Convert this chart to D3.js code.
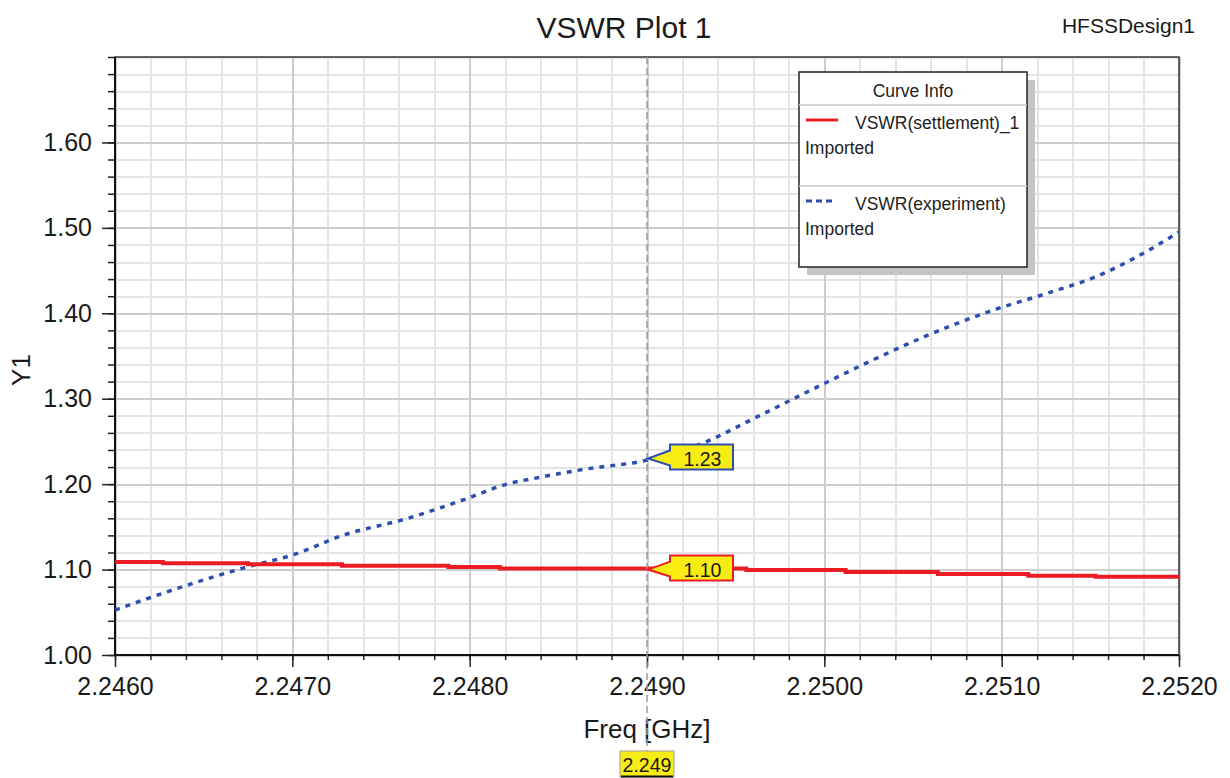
<!DOCTYPE html>
<html>
<head>
<meta charset="utf-8">
<script src="https://cdn.jsdelivr.net/npm/d3@7"></script>
<style>
  html, body { margin: 0; padding: 0; background: #fff; }
  svg { display: block; font-family: "Liberation Sans", Arial, sans-serif; }
  .grid line { shape-rendering: crispEdges; }
</style>
</head>
<body>
<div id="chart"></div>
<script>
// axis ticks
const xTicks = [2.246, 2.247, 2.248, 2.249, 2.250, 2.251, 2.252];
const xTickLabels = ['2.2460', '2.2470', '2.2480', '2.2490', '2.2500', '2.2510', '2.2520'];
const yTicks = [1.0, 1.1, 1.2, 1.3, 1.4, 1.5, 1.6];
const yTickLabels = ['1.00', '1.10', '1.20', '1.30', '1.40', '1.50', '1.60'];

// VSWR(settlement)_1 - stepped curve
const settlementFreq = [2.2460, 2.24627, 2.24675, 2.24728, 2.24788, 2.24817, 2.24956, 2.25012, 2.25064, 2.25115, 2.25153, 2.2520];
const settlementVswr = [1.1090, 1.1073, 1.1061, 1.1044, 1.1029, 1.1014, 1.0994, 1.0971, 1.0947, 1.0927, 1.0916, 1.0916];

// VSWR(experiment)
const experimentFreq = [2.2460, 2.24638, 2.24675, 2.24700, 2.24729, 2.24765, 2.24796, 2.24821, 2.24839, 2.24864, 2.24900,
  2.24931, 2.24962, 2.24998, 2.25027, 2.25054, 2.25095, 2.25125, 2.25155, 2.25176, 2.25200];
const experimentVswr = [1.0526, 1.0799, 1.1033, 1.1170, 1.1404, 1.1599, 1.1813, 1.2000, 1.2078, 1.2172, 1.2281,
  1.2476, 1.2787, 1.3158, 1.3450, 1.3704, 1.4035, 1.4230, 1.4444, 1.4658, 1.4951];

// marker
const markerFreq = 2.249;
const markerLabel = '2.249';
const markerValues = [1.23, 1.10];
const markerTexts = ['1.23', '1.10'];
const markerColors = ['#2f4fae', '#ec1c24'];

const W = 1230, H = 778;
const margin = { top: 57, right: 51, bottom: 123, left: 115 };
const width = W - margin.left - margin.right;
const height = H - margin.top - margin.bottom;

const x = d3.scaleLinear().domain([2.246, 2.252]).range([margin.left, margin.left + width]);
const y = d3.scaleLinear().domain([1.0, 1.7]).range([margin.top + height, margin.top]);

const svg = d3.select('#chart').append('svg')
  .attr('width', W)
  .attr('height', H);

// minor grid
svg.append('g')
  .attr('class', 'grid')
  .attr('transform', `translate(0, ${margin.top + height})`)
  .call(d3.axisBottom(x).ticks(30).tickSize(-height).tickFormat(''))
  .call((g) => g.select('.domain').remove())
  .call((g) => g.selectAll('.tick line').attr('stroke', '#e4e4e4').attr('stroke-width', 2));

svg.append('g')
  .attr('class', 'grid')
  .attr('transform', `translate(${margin.left}, 0)`)
  .call(d3.axisLeft(y).ticks(35).tickSize(-width).tickFormat(''))
  .call((g) => g.select('.domain').remove())
  .call((g) => g.selectAll('.tick line').attr('stroke', '#e4e4e4').attr('stroke-width', 2));

// major grid
svg.append('g')
  .attr('class', 'grid')
  .attr('transform', `translate(0, ${margin.top + height})`)
  .call(d3.axisBottom(x).tickValues(xTicks).tickSize(-height).tickFormat(''))
  .call((g) => g.select('.domain').remove())
  .call((g) => g.selectAll('.tick line').attr('stroke', '#cdcdcd').attr('stroke-width', 2));

svg.append('g')
  .attr('class', 'grid')
  .attr('transform', `translate(${margin.left}, 0)`)
  .call(d3.axisLeft(y).tickValues(yTicks).tickSize(-width).tickFormat(''))
  .call((g) => g.select('.domain').remove())
  .call((g) => g.selectAll('.tick line').attr('stroke', '#cdcdcd').attr('stroke-width', 2));

// minor ticks
svg.append('g')
  .attr('transform', `translate(0, ${margin.top + height})`)
  .call(d3.axisBottom(x).ticks(30).tickSize(5).tickFormat(''))
  .call((g) => g.select('.domain').remove())
  .call((g) => g.selectAll('.tick line').attr('stroke', '#222').attr('stroke-width', 1.5));

svg.append('g')
  .attr('transform', `translate(${margin.left}, 0)`)
  .call(d3.axisLeft(y).ticks(35).tickSize(7).tickFormat(''))
  .call((g) => g.select('.domain').remove())
  .call((g) => g.selectAll('.tick line').attr('stroke', '#222').attr('stroke-width', 1.5));

// major ticks + labels
svg.append('g')
  .attr('transform', `translate(0, ${margin.top + height})`)
  .call(d3.axisBottom(x).tickValues(xTicks).tickSize(12).tickPadding(10)
    .tickFormat((d, i) => xTickLabels[i]))
  .call((g) => g.select('.domain').remove())
  .call((g) => g.selectAll('.tick line').attr('stroke', '#222').attr('stroke-width', 1.5))
  .call((g) => g.selectAll('.tick text')
    .attr('fill', '#1a1a1a')
    .style('font-size', '25px')
    .style('font-family', '"Liberation Sans", Arial, sans-serif'));

svg.append('g')
  .attr('transform', `translate(${margin.left}, 0)`)
  .call(d3.axisLeft(y).tickValues(yTicks).tickSize(13).tickPadding(10)
    .tickFormat((d, i) => yTickLabels[i]))
  .call((g) => g.select('.domain').remove())
  .call((g) => g.selectAll('.tick line').attr('stroke', '#222').attr('stroke-width', 1.5))
  .call((g) => g.selectAll('.tick text')
    .attr('fill', '#1a1a1a')
    .style('font-size', '25px')
    .style('font-family', '"Liberation Sans", Arial, sans-serif'));

// frame
svg.append('rect')
  .attr('x', margin.left)
  .attr('y', margin.top)
  .attr('width', width)
  .attr('height', height)
  .attr('fill', 'none')
  .attr('stroke', '#333')
  .attr('stroke-width', 1.5);

svg.append('path')
  .attr('d', `M${margin.left},${margin.top} V${margin.top + height} H${margin.left + width}`)
  .attr('fill', 'none')
  .attr('stroke', '#111')
  .attr('stroke-width', 2);

svg.append('clipPath')
  .attr('id', 'plotClip')
  .append('rect')
  .attr('x', margin.left)
  .attr('y', margin.top)
  .attr('width', width)
  .attr('height', height);

const plot = svg.append('g').attr('clip-path', 'url(#plotClip)');

const settlementLine = d3.line()
  .x((d, i) => x(settlementFreq[i]))
  .y((d) => y(d))
  .curve(d3.curveStepAfter);

const experimentLine = d3.line()
  .x((d, i) => x(experimentFreq[i]))
  .y((d) => y(d))
  .curve(d3.curveMonotoneX);

plot.append('path')
  .datum(experimentVswr)
  .attr('d', experimentLine)
  .attr('fill', 'none')
  .attr('stroke', '#2f4fae')
  .attr('stroke-width', 3.5)
  .attr('stroke-dasharray', '5,6');

plot.append('path')
  .datum(settlementVswr)
  .attr('d', settlementLine)
  .attr('fill', 'none')
  .attr('stroke', '#ec1c24')
  .attr('stroke-width', 4);

// titles
svg.append('text')
  .attr('x', 624)
  .attr('y', 38)
  .attr('text-anchor', 'middle')
  .attr('fill', '#1a1a1a')
  .style('font-size', '30px')
  .text('VSWR Plot 1');

svg.append('text')
  .attr('x', 1195)
  .attr('y', 33)
  .attr('text-anchor', 'end')
  .attr('fill', '#1a1a1a')
  .style('font-size', '21px')
  .text('HFSSDesign1');

svg.append('text')
  .attr('x', (margin.left + margin.left + width) / 2)
  .attr('y', 738)
  .attr('text-anchor', 'middle')
  .attr('fill', '#1a1a1a')
  .style('font-size', '26px')
  .text('Freq [GHz]');

svg.append('text')
  .attr('transform', 'translate(30, 370) rotate(-90)')
  .attr('text-anchor', 'middle')
  .attr('fill', '#1a1a1a')
  .style('font-size', '26px')
  .text('Y1');

// legend
const legend = svg.append('g').attr('transform', 'translate(799, 72)');
const lw = 228, lh = 195;

legend.append('rect')
  .attr('x', 8).attr('y', 8)
  .attr('width', lw).attr('height', lh)
  .attr('fill', '#c4c4c4');

legend.append('rect')
  .attr('width', lw).attr('height', lh)
  .attr('fill', '#fff')
  .attr('stroke', '#222')
  .attr('stroke-width', 1.5);

legend.append('text')
  .attr('x', lw / 2).attr('y', 25)
  .attr('text-anchor', 'middle')
  .attr('fill', '#222')
  .style('font-size', '17.5px')
  .text('Curve Info');

legend.selectAll('line.sep')
  .data([33, 114])
  .join('line')
  .attr('class', 'sep')
  .attr('x1', 0).attr('x2', lw)
  .attr('y1', (d) => d).attr('y2', (d) => d)
  .attr('stroke', '#c8c8c8')
  .attr('stroke-width', 1.5);

const legendItems = [
  { name: 'VSWR(settlement)_1', color: '#ec1c24', dash: null, width: 3, len: 32, y: 48 },
  { name: 'VSWR(experiment)', color: '#2f4fae', dash: '6,4', width: 3, len: 28, y: 129 },
];

legendItems.forEach((it) => {
  legend.append('line')
    .attr('x1', 7).attr('x2', 7 + it.len)
    .attr('y1', it.y).attr('y2', it.y)
    .attr('stroke', it.color)
    .attr('stroke-width', it.width)
    .attr('stroke-dasharray', it.dash);
  legend.append('text')
    .attr('x', 56).attr('y', it.y + 9)
    .attr('fill', '#222')
    .style('font-size', '17.5px')
    .text(it.name);
  legend.append('text')
    .attr('x', 6).attr('y', it.y + 34)
    .attr('fill', '#222')
    .style('font-size', '17.5px')
    .text('Imported');
});

// marker line
const mx = x(markerFreq);
svg.append('line')
  .attr('x1', mx).attr('x2', mx)
  .attr('y1', margin.top).attr('y2', 751)
  .attr('stroke', '#9a9a9a')
  .attr('stroke-width', 1.5)
  .attr('stroke-dasharray', '7,4');

// marker callouts
markerValues.forEach((v, i) => {
  const py = y(v);
  const left = mx + 23, right = mx + 86, top = py - 14, bottom = py + 11;
  svg.append('path')
    .attr('d', `M${left},${top} H${right} V${bottom} H${left} V${py + 7} L${mx + 1},${py} L${left},${py - 8} Z`)
    .attr('fill', '#f7ec14')
    .attr('stroke', markerColors[i])
    .attr('stroke-width', 2)
    .attr('stroke-linejoin', 'miter');
  svg.append('text')
    .attr('x', (left + right) / 2 + 1)
    .attr('y', py + 7)
    .attr('text-anchor', 'middle')
    .attr('fill', '#1a1a1a')
    .style('font-size', '19.5px')
    .text(markerTexts[i]);
});

// marker frequency box
svg.append('rect')
  .attr('x', mx - 27).attr('y', 751)
  .attr('width', 54).attr('height', 26)
  .attr('fill', '#f7ec14')
  .attr('stroke', '#a0a0a0')
  .attr('stroke-width', 1);

svg.append('text')
  .attr('x', mx)
  .attr('y', 772)
  .attr('text-anchor', 'middle')
  .attr('fill', '#1a1a1a')
  .style('font-size', '19.5px')
  .text(markerLabel);

svg.append('line')
  .attr('x1', mx - 26).attr('x2', mx + 26)
  .attr('y1', 776.5).attr('y2', 776.5)
  .attr('stroke', '#111')
  .attr('stroke-width', 2);
</script>
</body>
</html>
